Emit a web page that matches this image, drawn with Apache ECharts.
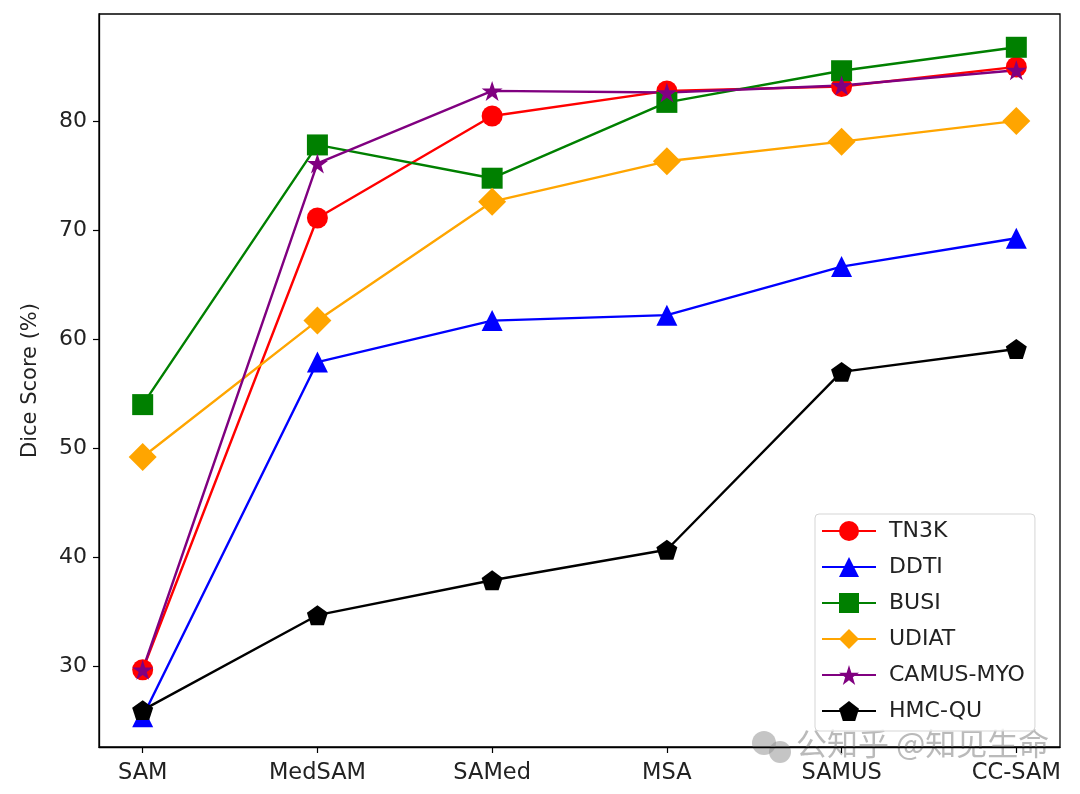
<!DOCTYPE html>
<html>
<head>
<meta charset="utf-8">
<script src="https://cdn.jsdelivr.net/npm/echarts@6/dist/echarts.min.js"></script>
<style>
  html, body { margin: 0; padding: 0; background: #fff; }
  #chart { width: 1080px; height: 794px; }
</style>
</head>
<body>
<div id="chart"></div>
<script>
// categories on the x axis
var methods = ['SAM', 'MedSAM', 'SAMed', 'MSA', 'SAMUS', 'CC-SAM'];

// Dice score (%) per dataset
var tn3k  = [29.7, 71.1, 80.45, 82.75, 83.15, 84.95];
var ddti  = [25.4, 57.9, 61.7, 62.2, 66.65, 69.25];
var busi  = [54.0, 77.8, 74.75, 81.7, 84.6, 86.75];
var udiat = [49.2, 61.7, 72.6, 76.3, 78.1, 80.0];
var camus = [29.7, 76.1, 82.75, 82.6, 83.25, 84.65];
var hmcqu = [26.0, 34.7, 37.9, 40.7, 57.0, 59.1];

var yTicks = [30, 40, 50, 60, 70, 80];

var starPath = 'path://M100,0 L122.45,69.1 L195.1,69.1 L136.3,111.8 L158.8,180.9 L100,138.2 L41.2,180.9 L63.7,111.8 L4.9,69.1 L77.55,69.1 Z';
var pentagonPath = 'path://M100,0 L195.1,69.1 L158.8,180.9 L41.2,180.9 L4.9,69.1 Z';

var font = 'DejaVu Sans';

function toPoints(values) {
  // x is the category index so the axis can keep matplotlib-like margins
  return values.map(function (v, i) { return [i, v]; });
}

function makeSeries(name, values, color, symbol, size) {
  return {
    name: name,
    type: 'line',
    data: toPoints(values),
    color: color,
    symbol: symbol,
    symbolSize: size,
    symbolKeepAspect: true,
    showAllSymbol: true,
    lineStyle: { width: 2.4, color: color },
    itemStyle: { color: color },
    emphasis: { disabled: true },
    animation: false
  };
}

var chart = echarts.init(document.getElementById('chart'));

var option = {
  backgroundColor: '#fff',
  grid: {
    left: 99,
    right: 20,
    top: 14,
    bottom: 47,
    show: true,
    borderColor: '#000',
    borderWidth: 1.3,
    containLabel: false
  },
  legend: {
    orient: 'vertical',
    left: 815,
    top: 514,
    width: 232,
    padding: [6, 10, 9, 6],
    backgroundColor: 'rgba(255,255,255,0.8)',
    borderColor: '#d5d5d5',
    borderWidth: 1,
    borderRadius: 4,
    itemWidth: 54,
    itemHeight: 25,
    itemGap: 14,
    textStyle: { fontFamily: font, fontSize: 22, color: '#222', padding: [0, 0, 0, 8] },
    data: ['TN3K', 'DDTI', 'BUSI', 'UDIAT', 'CAMUS-MYO', 'HMC-QU']
  },
  xAxis: {
    type: 'value',
    min: -0.25,
    max: 5.25,
    axisLine: { show: true, onZero: false, lineStyle: { color: '#000', width: 1.3 } },
    axisTick: {
      show: true,
      length: 6,
      customValues: [0, 1, 2, 3, 4, 5],
      lineStyle: { color: '#000', width: 1.2 }
    },
    axisLabel: {
      customValues: [0, 1, 2, 3, 4, 5],
      formatter: function (v) { return methods[Math.round(v)]; },
      fontFamily: font,
      fontSize: 22.5,
      color: '#222',
      margin: 15
    },
    splitLine: { show: false }
  },
  yAxis: {
    type: 'value',
    min: 22.62,
    max: 89.8,
    name: 'Dice Score (%)',
    nameLocation: 'middle',
    nameGap: 58,
    nameTextStyle: { fontFamily: font, fontSize: 21, color: '#222' },
    axisLine: { show: true, onZero: false, lineStyle: { color: '#000', width: 1.3 } },
    axisTick: {
      show: true,
      length: 6,
      customValues: yTicks,
      lineStyle: { color: '#000', width: 1.2 }
    },
    axisLabel: {
      customValues: yTicks,
      fontFamily: font,
      fontSize: 22,
      color: '#222',
      margin: 12
    },
    splitLine: { show: false }
  },
  series: [
    makeSeries('TN3K', tn3k, '#ff0000', 'circle', 21),
    makeSeries('DDTI', ddti, '#0000ff', 'triangle', 21),
    makeSeries('BUSI', busi, '#008000', 'rect', 21),
    makeSeries('UDIAT', udiat, '#ffa500', 'diamond', 28),
    makeSeries('CAMUS-MYO', camus, '#800080', starPath, 21),
    makeSeries('HMC-QU', hmcqu, '#000000', pentagonPath, 21)
  ],
  graphic: {
    elements: [
      {
        // watermark in the bottom right corner
        type: 'group',
        left: 752,
        top: 728,
        silent: true,
        children: [
          { type: 'circle', shape: { cx: 14, cy: 15, r: 12 }, style: { fill: 'rgba(150,150,150,0.55)' } },
          { type: 'circle', shape: { cx: 30, cy: 24, r: 11 }, style: { fill: 'rgba(150,150,150,0.55)' } },
          {
            type: 'text',
            x: 46,
            y: 0,
            style: {
              text: '公知乎 @知见生命',
              fill: 'rgba(140,140,140,0.6)',
              font: '31px "Noto Sans CJK SC"'
            }
          }
        ]
      }
    ]
  }
};

chart.setOption(option);
window.addEventListener('resize', function () {
  chart.resize();
});
</script>
</body>
</html>
